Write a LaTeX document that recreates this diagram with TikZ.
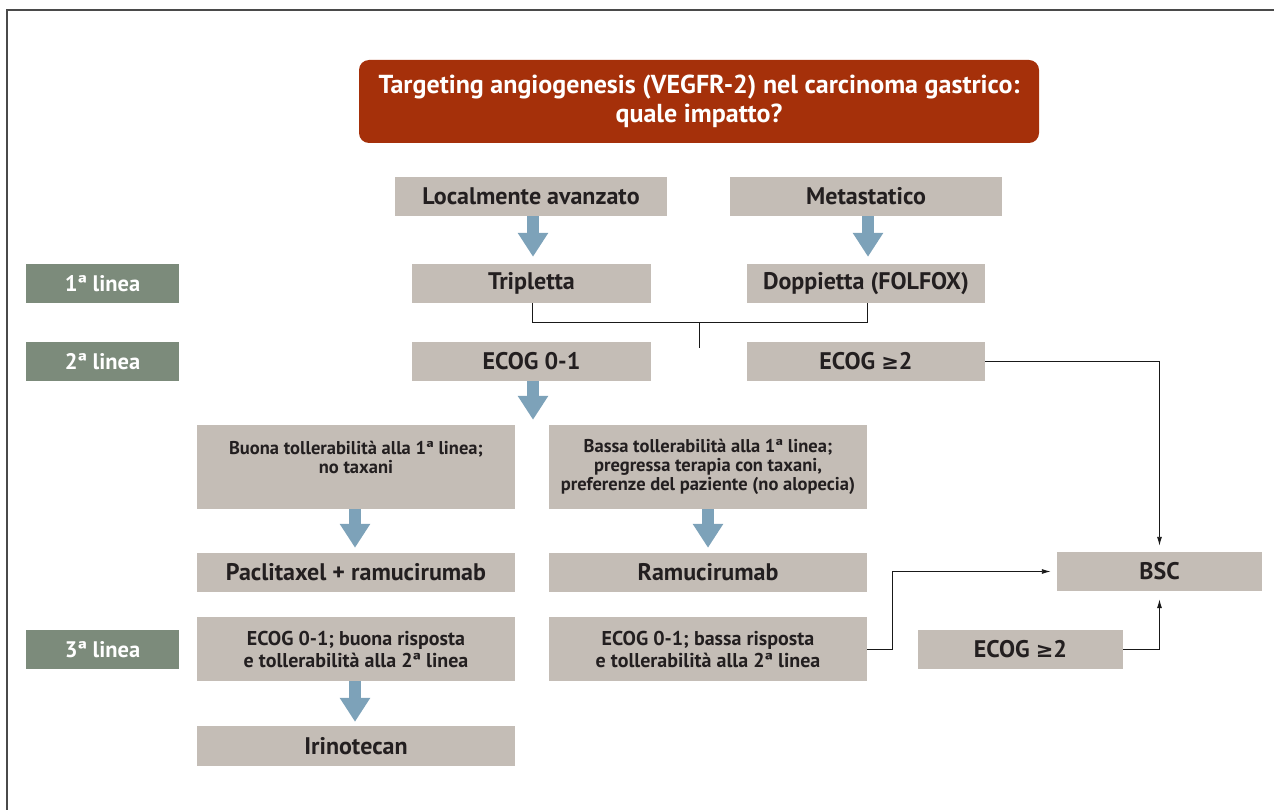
\documentclass[tikz,border=0pt]{standalone}
\usepackage{fontspec}
\setmainfont{PT Sans}
\newfontfamily\symfont{DejaVu Sans}
\newcommand{\mygeq}{{\symfont\fontsize{21}{24}\selectfont ≥}}
\usetikzlibrary{arrows.meta}
\definecolor{titlered}{HTML}{A5300A}
\definecolor{boxgray}{HTML}{C4BDB6}
\definecolor{linegreen}{HTML}{7C8B7B}
\definecolor{arrowblue}{HTML}{7DA2B9}
\definecolor{framegray}{HTML}{4A4A4A}
\definecolor{textdark}{HTML}{231F20}
\tikzset{
  box/.style={fill=boxgray, inner sep=0pt, align=center, text=textdark,
    font=\fontsize{24}{27}\selectfont\bfseries},
  smallbox/.style={box, font=\fontsize{18.5}{18.7}\selectfont\bfseries},
  condbox/.style={box, font=\fontsize{20}{22}\selectfont\bfseries},
  linebox/.style={fill=linegreen, inner sep=0pt, text=white,
    font=\fontsize{22.5}{26}\selectfont\bfseries},
  titlebox/.style={fill=titlered, rounded corners=10pt, inner sep=0pt, align=center,
    text=white, font=\fontsize{26}{29}\selectfont\bfseries},
  fatarrow/.style={draw=arrowblue, line width=12pt,
    -{Triangle[width=29pt,length=24pt]}},
  conn/.style={draw=black!90, line width=0.9pt},
  connarrow/.style={conn, -{Latex[length=9pt,width=5pt]}},
}
\begin{document}
\begin{tikzpicture}[x=1pt, y=-1pt]
\useasboundingbox (0,0) rectangle (1274,810);
% frame
\draw[framegray, line width=1.3pt] (7,810) -- (7,10) -- (1274,10);

\node[titlebox, minimum width=680pt, minimum height=83pt] (title) at (699,101.5)
  {Targeting angiogenesis (VEGFR-2) nel carcinoma gastrico:\\quale impatto?};

\node[box, minimum width=272pt, minimum height=39pt] (loc) at (531,196.5) {Localmente avanzato};
\node[box, minimum width=272pt, minimum height=39pt] (meta) at (866,196.5) {Metastatico};

\node[linebox, minimum width=153pt, minimum height=39pt] (lin1) at (102.5,283.5) {1ª linea};
\node[box, minimum width=239pt, minimum height=39pt] (trip) at (531.5,283.5) {Tripletta};
\node[box, minimum width=238pt, minimum height=39pt] (dopp) at (866,283.5) {Doppietta (FOLFOX)};

\node[linebox, minimum width=153pt, minimum height=39pt] (lin2) at (102.5,361.5) {2ª linea};
\node[box, minimum width=239pt, minimum height=39pt] (ecog01) at (531.5,361.5) {ECOG 0-1};
\node[box, minimum width=238pt, minimum height=39pt] (ecog2) at (866,361.5) {ECOG \mygeq2};

\node[smallbox, minimum width=318pt, minimum height=84pt] (buona) at (356,467)
  {Buona tollerabilità alla 1ª linea;\\no taxani\\\phantom{x}};
\node[smallbox, minimum width=318pt, minimum height=84pt] (bassa) at (708,467)
  {Bassa tollerabilità alla 1ª linea;\\pregressa terapia con taxani,\\preferenze del paziente (no alopecia)};

\node[box, minimum width=318pt, minimum height=39pt] (pacli) at (356,572.5) {Paclitaxel + ramucirumab};
\node[box, minimum width=318pt, minimum height=39pt] (ramu) at (708,572.5) {Ramucirumab};
\node[box, minimum width=205pt, minimum height=39pt] (bsc) at (1159.5,571.5) {BSC};

\node[linebox, minimum width=153pt, minimum height=39pt] (lin3) at (102.5,649.5) {3ª linea};
\node[condbox, minimum width=318pt, minimum height=64pt] (ecogb) at (356,649)
  {ECOG 0-1; buona risposta\\e tollerabilità alla 2ª linea};
\node[condbox, minimum width=318pt, minimum height=64pt] (ecogc) at (708,649)
  {ECOG 0-1; bassa risposta\\e tollerabilità alla 2ª linea};
\node[box, minimum width=205pt, minimum height=39pt] (ecog2b) at (1020.5,649.5) {ECOG \mygeq2};

\node[box, minimum width=318pt, minimum height=40pt] (irino) at (356,746) {Irinotecan};

% fat arrows
\draw[fatarrow, shorten >=7pt] ([xshift=2pt]loc.south) -- ([xshift=1.5pt]trip.north);
\draw[fatarrow, shorten >=7pt] ([xshift=2pt]meta.south) -- ([xshift=2pt]dopp.north);
\draw[fatarrow, shorten >=5pt] ([xshift=1.5pt]ecog01.south) -- ([xshift=1.5pt]ecog01.south |- buona.north);
\draw[fatarrow, shorten >=5pt] ([xshift=-1pt]buona.south) -- ([xshift=-1pt]pacli.north);
\draw[fatarrow, shorten >=5pt] (bassa.south) -- (ramu.north);
\draw[fatarrow, shorten >=4pt] ([xshift=-1pt]ecogb.south) -- ([xshift=-1pt]irino.north);

% thin connectors
\coordinate (split) at (699,322);
\coordinate (stub) at (699,348);
\draw[conn] ([xshift=0.5pt]trip.south) -- ([xshift=0.5pt]trip.south |- split) -- ([xshift=1pt]dopp.south |- split) -- ([xshift=1pt]dopp.south);
\draw[conn] (split) -- (stub);
\draw[connarrow, shorten >=6pt] (ecog2.east) -| (bsc.north);
\draw[connarrow, shorten >=8pt] (ecog2b.east) -| (bsc.south);
\draw[connarrow, shorten >=6pt] (ecogc.east) -- ++(25,0) |- (bsc.west);
\end{tikzpicture}
\end{document}
